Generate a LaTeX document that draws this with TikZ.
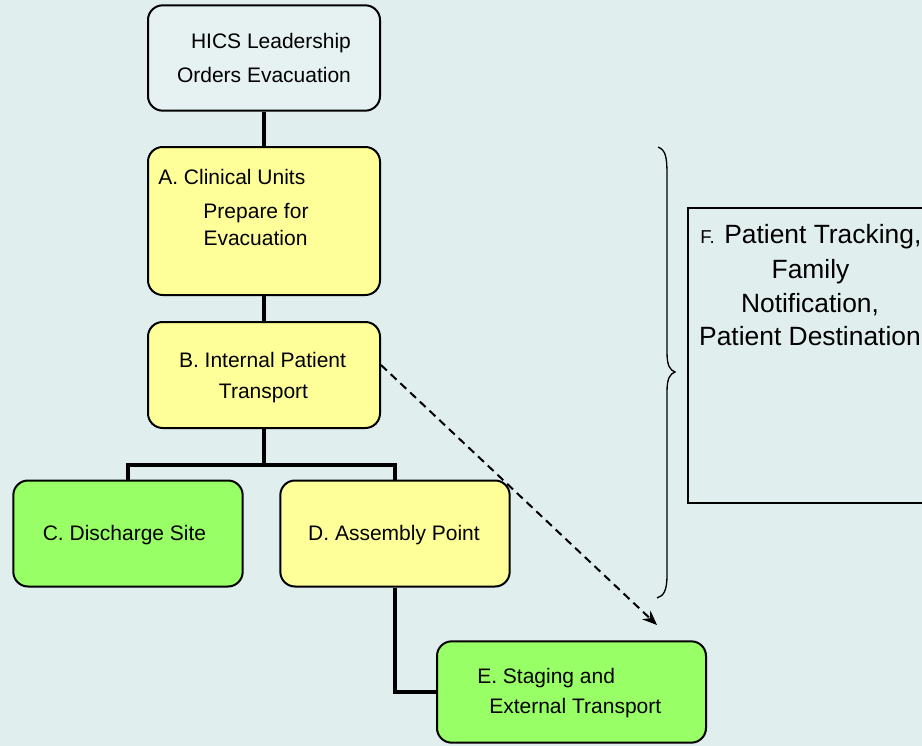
\documentclass[tikz,border=0pt]{standalone}
\usepackage{fontspec}
\setmainfont{Liberation Sans}
\usetikzlibrary{arrows.meta}
\definecolor{bg}{HTML}{E1EEEE}
\definecolor{boxbg}{HTML}{E6F1F1}
\definecolor{yel}{HTML}{FFFF99}
\definecolor{grn}{HTML}{99FF66}
\begin{document}
\begin{tikzpicture}[x=0.75pt,y=-0.75pt,
  box/.style={draw=black, line width=1.5pt, rounded corners=11pt, inner sep=0pt, rectangle},
  conn/.style={line width=3.3pt},
  lbl/.style={anchor=base, font=\fontsize{15.75}{18}\selectfont, inner sep=0pt},
  lbll/.style={lbl, anchor=base west},
  flbl/.style={anchor=base, font=\fontsize{19.8}{22}\selectfont, inner sep=0pt},
  dasharrow/.style={line width=1.5pt, dash pattern=on 6pt off 4pt, -{Stealth[length=11pt,width=9pt]}},
  brace/.style={line width=1pt}
]
\useasboundingbox (0,0) rectangle (922,746);
\fill[bg] (0,0) rectangle (922,746);

% boxes
\node[box, fill=boxbg, minimum width=174pt, minimum height=79pt] (hics) at (264,58) {};
\node[box, fill=yel, minimum width=174pt, minimum height=111pt] (A) at (264,221) {};
\node[box, fill=yel, minimum width=174pt, minimum height=79.5pt] (B) at (264,375) {};
\node[box, fill=grn, minimum width=172pt, minimum height=79.5pt] (C) at (128,533.5) {};
\node[box, fill=yel, minimum width=172pt, minimum height=79.5pt] (D) at (395,533.5) {};
\node[box, fill=grn, minimum width=201.75pt, minimum height=76pt] (E) at (571.5,692) {};
\node[draw=black, line width=1.5pt, rectangle, inner sep=0pt, minimum width=187.5pt, minimum height=221.25pt] (F) at (813,355.5) {};

% connectors
\draw[conn] (hics) -- (A);
\draw[conn] (A) -- (B);
\coordinate (j) at (264,465);
\draw[conn] (B) -- (j);
\draw[conn] (C.north) |- (j) -| (D.north);
\draw[conn] (D.south) |- (E.west);
\coordinate (tip) at (657,625);
\draw[dasharrow] ([yshift=7.5pt]B.east) -- (tip);

% brace
\draw[brace] (658,147) .. controls (666,150) and (667,158) .. (667,175)
  -- (667,352) .. controls (667,366) and (670,370) .. (675,372)
  .. controls (670,374) and (667,378) .. (667,392)
  -- (667,575) .. controls (667,590) and (664,596) .. (657,598);

% labels
\node[lbl] (t1) at (271,48) {HICS Leadership};
\node[lbl] (t2) at (264,82) {Orders Evacuation};
\node[lbll] (t3) at (158,184) {A. Clinical Units};
\node[lbl] (t4) at (256,218) {Prepare for};
\node[lbl] (t5) at (255.5,245) {Evacuation};
\node[lbl] (t6) at (262.5,367) {B. Internal Patient};
\node[lbl] (t7) at (263.5,398) {Transport};
\node[lbl] (t8) at (124.5,540) {C. Discharge Site};
\node[lbl] (t9) at (394,540) {D. Assembly Point};
\node[lbll] (t10) at (477,683) {E. Staging and};
\node[lbll] (t11) at (489,713) {External Transport};
\node[anchor=base west, inner sep=0pt, font=\fontsize{14}{16}\selectfont] (t12a) at (700,243) {F.};
\node[anchor=base west, inner sep=0pt, font=\fontsize{19.8}{22}\selectfont] (t12) at (724,243) {Patient Tracking,};
\node[flbl] (t13) at (810.5,278) {Family};
\node[flbl] (t14) at (810,312) {Notification,};
\node[flbl] (t15) at (810,345) {Patient Destination};
\end{tikzpicture}
\end{document}
